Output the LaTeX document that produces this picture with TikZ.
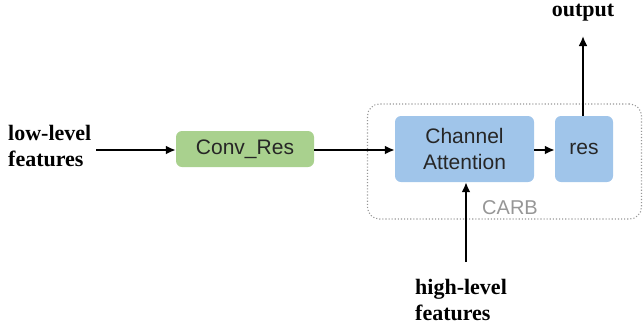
\documentclass[tikz,border=0pt]{standalone}
\usepackage{fontspec}
\setmainfont{Liberation Serif}
\setsansfont{Liberation Sans}
\usetikzlibrary{arrows.meta}
\definecolor{boxgreen}{RGB}{169,209,142}
\definecolor{boxblue}{RGB}{160,197,234}
\definecolor{carbgray}{RGB}{150,150,150}
\tikzset{
  blk/.style={draw=none, rounded corners=6pt, inner sep=0pt, font=\sffamily\fontsize{21}{26}\selectfont, text=black!85, align=center},
  lbl/.style={font=\bfseries\fontsize{22}{26}\selectfont, align=left, inner sep=0pt},
  conn/.style={line width=2.5pt, -{Latex[length=10pt,width=9pt]}},
}
\begin{document}
\begin{tikzpicture}[x=1pt,y=-1pt]
\useasboundingbox (0,0) rectangle (643,327);
% CARB frame
\node[draw=carbgray, dotted, line width=1.1pt, rounded corners=12pt, minimum width=274pt, minimum height=115pt, inner sep=0pt] (carb) at (504.5,161.5) {};
\node[text=carbgray, font=\sffamily\fontsize{20}{22}\selectfont, inner sep=0pt] (carblbl) at (510,208) {CARB};
% blocks
\node[blk, fill=boxgreen, minimum width=138pt, minimum height=36pt] (conv) at (245,149) {Conv\_Res};
\node[blk, fill=boxblue, minimum width=139pt, minimum height=66pt] (ca) at (464.5,149) {Channel\\Attention};
\node[blk, fill=boxblue, minimum width=58pt, minimum height=66pt] (res) at (584,149) {res};
% labels
\node[lbl, anchor=west] (low) at (8,146) {low-level\\features};
\node[lbl, anchor=west] (high) at (415,300) {high-level\\features};
\node[lbl] (out) at (583,13) {output};
\coordinate (lowend) at (96,150);
\coordinate (highend) at (466,262);
\coordinate (outend) at (583,36);
% connectors
\draw[conn] (lowend) -- (conv.west |- lowend);
\draw[conn] (conv.east |- lowend) -- (ca.west |- lowend);
\draw[conn] (ca.east |- lowend) -- (res.west |- lowend);
\draw[conn] (highend) -- (highend |- ca.south);
\draw[conn] (outend |- res.north) -- (outend);
\end{tikzpicture}
\end{document}
